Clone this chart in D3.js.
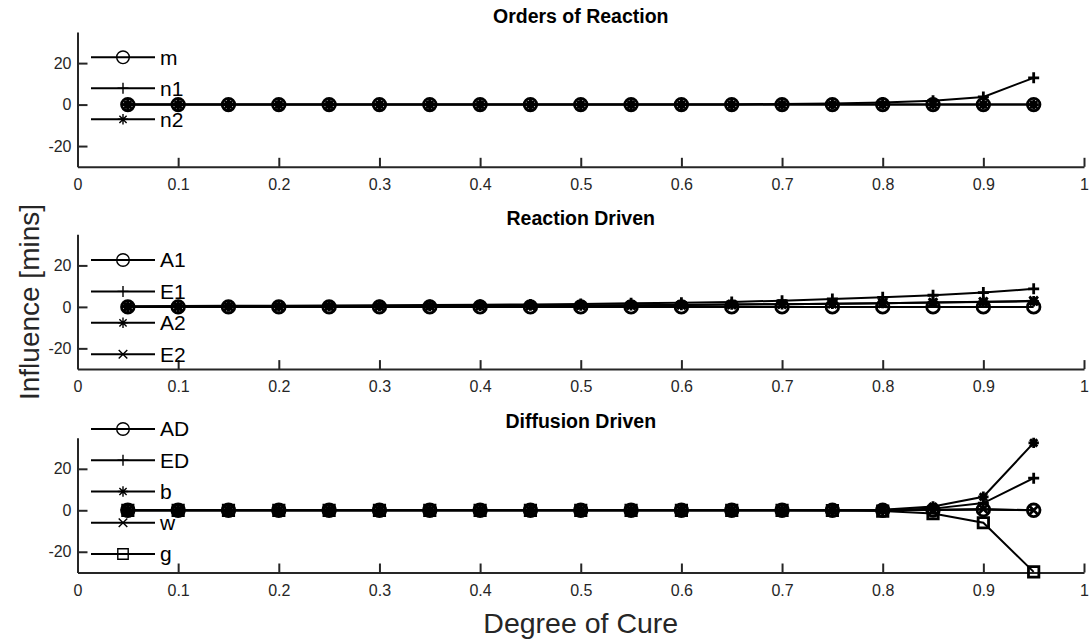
<!DOCTYPE html>
<html>
<head>
<meta charset="utf-8">
<script src="https://cdn.jsdelivr.net/npm/d3@7"></script>
<style>
  body { margin: 0; background: #fff; }
  text { font-family: 'Liberation Sans', Arial, Helvetica, sans-serif; }
</style>
</head>
<body>
<script>
// degree of cure sample points
var cure = [0.05, 0.1, 0.15, 0.2, 0.25, 0.3, 0.35, 0.4, 0.45, 0.5, 0.55, 0.6, 0.65, 0.7, 0.75, 0.8, 0.85, 0.9, 0.95];

// orders of reaction
var mVals  = [0, 0, 0, 0, 0, 0, 0, 0, 0, 0, 0, 0, 0, 0, 0, 0, 0, 0, 0];
var n1Vals = [0, 0, 0, 0, 0, 0, 0, 0, 0, 0, 0, 0.1, 0.1, 0.3, 0.5, 1.0, 1.9, 3.7, 12.9];
var n2Vals = [0, 0, 0, 0, 0, 0, 0, 0, 0, 0, 0, 0, 0, 0, 0, 0, 0, 0, 0];

// reaction driven
var a1Vals = [0, 0, 0, 0, 0, 0, 0, 0, 0, 0, 0, 0, 0, 0, 0, 0, 0, 0, 0];
var e1Vals = [0.3, 0.4, 0.5, 0.6, 0.7, 0.8, 0.9, 1.0, 1.2, 1.4, 1.7, 2.0, 2.4, 3.0, 3.8, 4.6, 5.6, 6.9, 8.7];
var a2Vals = [0.1, 0.1, 0.2, 0.2, 0.3, 0.3, 0.4, 0.5, 0.6, 0.7, 0.8, 0.9, 1.1, 1.3, 1.5, 1.8, 2.1, 2.4, 2.7];
var e2Vals = [0.1, 0.1, 0.2, 0.2, 0.3, 0.3, 0.4, 0.5, 0.6, 0.7, 0.8, 0.9, 1.1, 1.3, 1.5, 1.8, 2.1, 2.5, 2.9];

// diffusion driven
var adVals = [0, 0, 0, 0, 0, 0, 0, 0, 0, 0, 0, 0, 0, 0, 0, 0, 0.1, 0.3, 0];
var edVals = [0, 0, 0, 0, 0, 0, 0, 0, 0, 0, 0, 0, 0, 0, 0, 0.1, 0.8, 3.5, 15.5];
var bVals  = [0, 0, 0, 0, 0, 0, 0, 0, 0, 0, 0, 0, 0, 0, 0, 0.2, 1.8, 6.5, 32.5];
var wVals  = [0, 0, 0, 0, 0, 0, 0, 0, 0, 0, 0, 0, 0, 0, 0, 0, 0.2, 0.6, 0];
var gVals  = [0, 0, 0, 0, 0, 0, 0, 0, 0, 0, 0, 0, 0, 0, -0.1, -0.4, -1.6, -6.0, -29.7];

// ticks and labels
var xTicks = [0, 0.1, 0.2, 0.3, 0.4, 0.5, 0.6, 0.7, 0.8, 0.9, 1];
var yTicks = [-20, 0, 20];
var yDomain = [-30, 35];
var panelTitles = ['Orders of Reaction', 'Reaction Driven', 'Diffusion Driven'];

var panels = [
    { title: panelTitles[0], top: 32, legendTop: 57.3, legendGap: 31,
      series: [ { name: 'm', values: mVals, marker: 'circle' },
                { name: 'n1', values: n1Vals, marker: 'plus' },
                { name: 'n2', values: n2Vals, marker: 'star' } ] },
    { title: panelTitles[1], top: 234.3, legendTop: 260, legendGap: 31.4,
      series: [ { name: 'A1', values: a1Vals, marker: 'circle' },
                { name: 'E1', values: e1Vals, marker: 'plus' },
                { name: 'A2', values: a2Vals, marker: 'star' },
                { name: 'E2', values: e2Vals, marker: 'cross' } ] },
    { title: panelTitles[2], top: 437.7, legendTop: 429, legendGap: 31.25,
      series: [ { name: 'AD', values: adVals, marker: 'circle' },
                { name: 'ED', values: edVals, marker: 'plus' },
                { name: 'b', values: bVals, marker: 'star' },
                { name: 'w', values: wVals, marker: 'cross' },
                { name: 'g', values: gVals, marker: 'square' } ] }
];

var plotH = 134.8;
var axisColor = '#262626';

var svg = d3.select('body').append('svg')
    .attr('width', 1091)
    .attr('height', 642);

var xScale = d3.scaleLinear().domain([0, 1]).range([77.5, 1084]);

// marker shapes (MATLAB style)
function markerPath(type) {
    if (type === 'circle') {
        var r = 6.3;
        return 'M' + r + ',0A' + r + ',' + r + ' 0 1 1 ' + (-r) + ',0A' + r + ',' + r + ' 0 1 1 ' + r + ',0Z';
    } else if (type === 'plus') {
        var s = 5.5;
        return 'M' + (-s) + ',0H' + s + 'M0,' + (-s) + 'V' + s;
    } else if (type === 'cross') {
        var a = 4.3;
        return 'M' + (-a) + ',' + (-a) + 'L' + a + ',' + a + 'M' + (-a) + ',' + a + 'L' + a + ',' + (-a);
    } else if (type === 'star') {
        var p = 5.2, q = 3.6;
        return 'M' + (-p) + ',0H' + p + 'M0,' + (-p) + 'V' + p +
               'M' + (-q) + ',' + (-q) + 'L' + q + ',' + q + 'M' + (-q) + ',' + q + 'L' + q + ',' + (-q);
    } else if (type === 'square') {
        var h = 5.2;
        return 'M' + (-h) + ',' + (-h) + 'H' + h + 'V' + h + 'H' + (-h) + 'Z';
    }
    return '';
}

// MATLAB prints a plain hyphen for negatives
function tickText(d) {
    return String(d);
}

panels.forEach(function(panel) {
    var yScale = d3.scaleLinear().domain(yDomain).range([panel.top + plotH, panel.top]);
    var g = svg.append('g').attr('class', 'panel');

    // x axis
    var xAxis = d3.axisBottom(xScale)
        .tickValues(xTicks)
        .tickSizeInner(-9)
        .tickSizeOuter(0)
        .tickPadding(12)
        .tickFormat(tickText);
    var gX = g.append('g')
        .attr('transform', 'translate(0,' + (panel.top + plotH) + ')')
        .call(xAxis);

    // y axis
    var yAxis = d3.axisLeft(yScale)
        .tickValues(yTicks)
        .tickSizeInner(-10)
        .tickSizeOuter(0)
        .tickPadding(6)
        .tickFormat(tickText);
    var gY = g.append('g')
        .attr('transform', 'translate(' + xScale(0) + ',0)')
        .call(yAxis);

    [gX, gY].forEach(function(ax) {
        ax.select('.domain').attr('stroke', axisColor).attr('stroke-width', 2);
        ax.selectAll('.tick line').attr('stroke', axisColor).attr('stroke-width', 2);
        ax.selectAll('.tick text')
            .attr('fill', axisColor)
            .style('font-size', '16px')
            .style('font-family', "'Liberation Sans', Arial, sans-serif");
    });

    // title
    g.append('text')
        .attr('x', (xScale(0) + xScale(1)) / 2)
        .attr('y', panel.top - 9.5)
        .attr('text-anchor', 'middle')
        .style('font-size', '19.5px')
        .style('font-weight', 'bold')
        .attr('fill', '#000')
        .text(panel.title);

    // series lines and markers
    var line = d3.line()
        .x(function(d, i) { return xScale(cure[i]); })
        .y(function(d) { return yScale(d); });

    panel.series.forEach(function(s) {
        g.append('path')
            .datum(s.values)
            .attr('d', line)
            .attr('fill', 'none')
            .attr('stroke', '#000')
            .attr('stroke-width', 2);

        g.selectAll(null)
            .data(s.values)
            .enter()
            .append('path')
            .attr('transform', function(d, i) { return 'translate(' + xScale(cure[i]) + ',' + yScale(d) + ')'; })
            .attr('d', markerPath(s.marker))
            .attr('fill', 'none')
            .attr('stroke', '#000')
            .attr('stroke-width', 2.8);
    });

    // legend (no box)
    var legend = g.selectAll('.legend-item')
        .data(panel.series)
        .enter()
        .append('g')
        .attr('class', 'legend-item')
        .attr('transform', function(d, i) { return 'translate(0,' + (panel.legendTop + i * panel.legendGap) + ')'; });

    legend.append('line')
        .attr('x1', 91).attr('x2', 155)
        .attr('y1', 0).attr('y2', 0)
        .attr('stroke', '#000')
        .attr('stroke-width', 2);

    legend.append('path')
        .attr('transform', 'translate(123,0)')
        .attr('d', function(d) { return markerPath(d.marker); })
        .attr('fill', 'none')
        .attr('stroke', '#000')
        .attr('stroke-width', 1.4);

    legend.append('text')
        .attr('x', 160)
        .attr('y', 0)
        .attr('dy', '0.35em')
        .style('font-size', '21px')
        .attr('fill', '#000')
        .text(function(d) { return d.name; });
});

// shared axis labels
svg.append('text')
    .attr('transform', 'translate(39,302) rotate(-90)')
    .attr('text-anchor', 'middle')
    .style('font-size', '28px')
    .attr('fill', axisColor)
    .text('Influence [mins]');

svg.append('text')
    .attr('x', (xScale(0) + xScale(1)) / 2)
    .attr('y', 633)
    .attr('text-anchor', 'middle')
    .style('font-size', '28.5px')
    .attr('fill', axisColor)
    .text('Degree of Cure');
</script>
</body>
</html>
